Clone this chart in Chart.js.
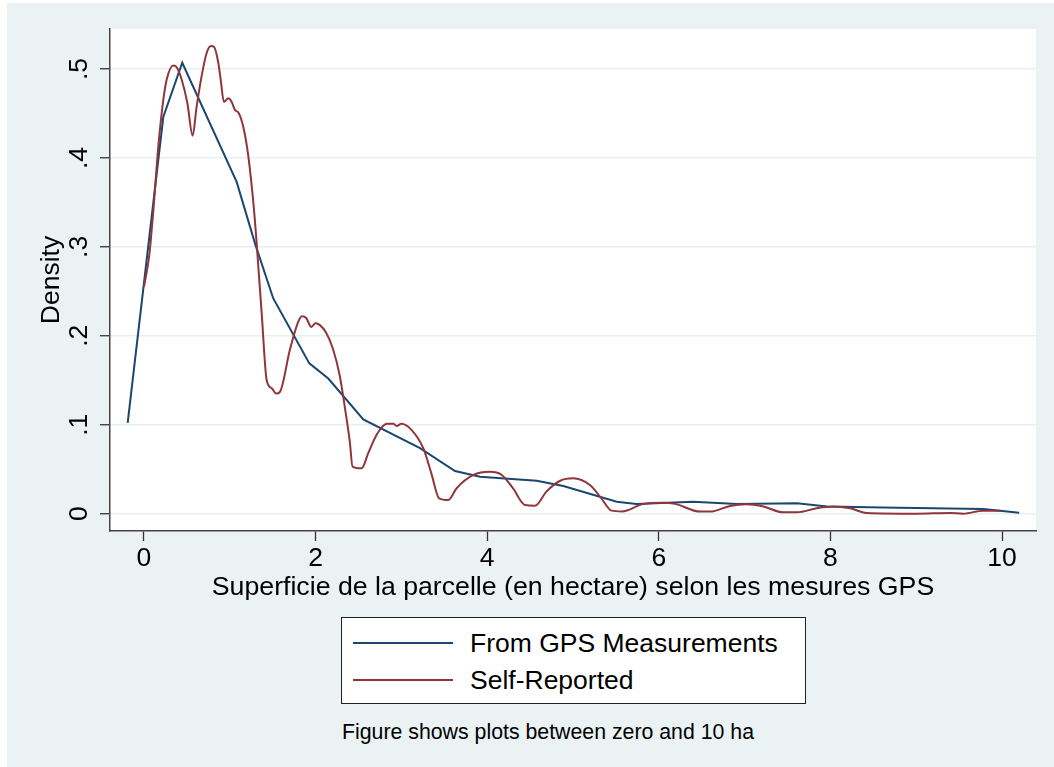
<!DOCTYPE html>
<html><head><meta charset="utf-8">
<script src="https://cdn.jsdelivr.net/npm/chart.js@4.4.1/dist/chart.umd.min.js"></script>
<style>
html,body{margin:0;padding:0;background:#fff;}
body{width:1054px;height:767px;position:relative;overflow:hidden;font-family:"Liberation Sans",Arial,Helvetica,sans-serif;color:#000;}
#bg{position:absolute;left:7px;top:3px;width:1047px;height:764px;background:#EAF2F3;}
#wrap{position:absolute;left:7px;top:3px;width:1040px;height:610px;}
#legend{position:absolute;left:341px;top:617px;width:465px;height:87px;box-sizing:border-box;border:1.3px solid #222;background:#fff;}
.item{position:absolute;left:0;width:100%;height:36px;}
.sample{position:absolute;left:11px;top:17px;width:100px;height:2px;}
.lbl{position:absolute;left:128px;top:0;font-size:26.5px;line-height:36px;white-space:nowrap;}
#note{position:absolute;left:342px;top:720px;font-size:21.3px;line-height:24px;white-space:nowrap;}
</style></head>
<body>
<div id="bg"></div>
<div id="wrap"><canvas id="c"></canvas></div>
<div id="legend"></div>
<div id="note"></div>
<script>
// ---- data ----
const seriesNames = ['From GPS Measurements', 'Self-Reported'];
const seriesColors = ['#1A476F', '#90353B'];
const gpsX = [-0.19, 0.225, 0.446, 1.08, 1.3, 1.507, 1.927, 2.148, 2.556, 3.217, 3.625, 3.916, 4.577, 4.887, 5.51, 5.74, 6.40, 6.91, 7.61, 7.96, 8.61, 9.78, 10.2];
const gpsY = [0.102, 0.446, 0.507, 0.373, 0.302, 0.242, 0.169, 0.152, 0.106, 0.0736, 0.048, 0.0416, 0.037, 0.031, 0.0135, 0.011, 0.0135, 0.011, 0.0117, 0.008, 0.007, 0.0053, 0.001];
const selfX = [0, 0.062, 0.11, 0.167, 0.225, 0.264, 0.342, 0.381, 0.44, 0.505, 0.567, 0.614, 0.672, 0.73, 0.78, 0.816, 0.866, 0.894, 0.932, 0.983, 1.022, 1.06, 1.1, 1.157, 1.216, 1.282, 1.31, 1.372, 1.43, 1.49, 1.54, 1.585, 1.70, 1.795, 1.84, 1.89, 1.95, 2.0, 2.05, 2.12, 2.2, 2.28, 2.35, 2.40, 2.43, 2.537, 2.614, 2.71, 2.83, 2.906, 2.945, 3.0, 3.12, 3.255, 3.35, 3.44, 3.547, 3.644, 3.84, 4.03, 4.17, 4.30, 4.44, 4.557, 4.69, 4.85, 5.0, 5.2, 5.33, 5.45, 5.57, 5.82, 6.05, 6.19, 6.48, 6.6, 6.83, 7.02, 7.22, 7.45, 7.61, 7.84, 8.03, 8.23, 8.42, 9.0, 9.39, 9.55, 9.78, 9.98];
const selfY = [0.255, 0.291, 0.342, 0.413, 0.465, 0.488, 0.504, 0.502, 0.488, 0.462, 0.425, 0.458, 0.492, 0.518, 0.526, 0.525, 0.507, 0.488, 0.463, 0.467, 0.463, 0.454, 0.451, 0.435, 0.402, 0.342, 0.308, 0.225, 0.150, 0.141, 0.135, 0.137, 0.184, 0.215, 0.222, 0.220, 0.210, 0.214, 0.212, 0.204, 0.186, 0.156, 0.114, 0.080, 0.053, 0.051, 0.068, 0.0885, 0.101, 0.101, 0.0987, 0.101, 0.094, 0.0736, 0.045, 0.0173, 0.0154, 0.0286, 0.0435, 0.047, 0.0435, 0.0286, 0.0098, 0.009, 0.0248, 0.037, 0.0398, 0.032, 0.0173, 0.0034, 0.0025, 0.011, 0.0124, 0.011, 0.0023, 0.0023, 0.0087, 0.0105, 0.008, 0.0015, 0.0015, 0.006, 0.008, 0.006, 0.0008, 0.0, 0.0008, 0.0, 0.0034, 0.0034];
const xTicks = [0, 2, 4, 6, 8, 10];
const yTicks = [0, 0.1, 0.2, 0.3, 0.4, 0.5];
const yTickLabels = ['0', '.1', '.2', '.3', '.4', '.5'];
const xTitle = 'Superficie de la parcelle (en hectare) selon les mesures GPS';
const yTitle = 'Density';
const noteText = 'Figure shows plots between zero and 10 ha';

// ---- legend & note (HTML text) ----
const legendEl = document.getElementById('legend');
seriesNames.forEach((name, i) => {
  const it = document.createElement('div');
  it.className = 'item';
  it.style.top = (7 + i * 37) + 'px';
  const s = document.createElement('div');
  s.className = 'sample'; s.style.background = seriesColors[i];
  const l = document.createElement('div');
  l.className = 'lbl'; l.textContent = name;
  it.appendChild(s); it.appendChild(l);
  legendEl.appendChild(it);
});
document.getElementById('note').textContent = noteText;

// ---- chart ----
Chart.defaults.font.family = '"Liberation Sans", Arial, Helvetica, sans-serif';
Chart.defaults.color = '#000';
const plotBg = {
  id: 'plotBg',
  beforeDraw(chart) {
    const {ctx, chartArea: a} = chart;
    ctx.save(); ctx.fillStyle = '#fff';
    ctx.fillRect(a.left, a.top, a.right - a.left, a.bottom - a.top);
    ctx.restore();
  }
};
new Chart(document.getElementById('c'), {
  type: 'line',
  data: {
    datasets: [
      { label: seriesNames[0], data: gpsX.map((x, i) => ({x, y: gpsY[i]})), borderColor: seriesColors[0], borderWidth: 2, pointRadius: 0, tension: 0, order: 1 },
      { label: seriesNames[1], data: selfX.map((x, i) => ({x, y: selfY[i]})), borderColor: seriesColors[1], borderWidth: 2, pointRadius: 0, cubicInterpolationMode: 'monotone', order: 0 }
    ]
  },
  options: {
    responsive: true, maintainAspectRatio: false, animation: false,
    layout: { padding: { top: 26, right: 11, left: 0, bottom: 0 } },
    plugins: { legend: { display: false }, tooltip: { enabled: false } },
    scales: {
      x: {
        type: 'linear', min: -0.396, max: 10.396,
        afterBuildTicks: s => { s.ticks = xTicks.map(v => ({value: v})); },
        afterFit: s => { s.height = 82; },
        ticks: { font: { size: 26.5 }, color: '#000', padding: 2, maxRotation: 0, autoSkip: false, callback: v => String(v) },
        grid: { drawOnChartArea: false, drawTicks: true, tickLength: 10, tickColor: '#333', tickWidth: 1.3 },
        border: { color: '#444', width: 1.5 },
        title: { display: true, text: xTitle, font: { size: 26.7 }, color: '#000', padding: { top: 0, bottom: 9 } }
      },
      y: {
        type: 'linear', min: -0.0195, max: 0.545,
        afterBuildTicks: s => { s.ticks = yTicks.map(v => ({value: v})); },
        afterFit: s => { s.width = 103; },
        ticks: { font: { size: 26.5 }, color: '#000', padding: 9, minRotation: 90, maxRotation: 90, crossAlign: 'center', autoSkip: false,
                 callback: v => yTickLabels[yTicks.indexOf(v)] },
        grid: { color: '#E6EFF1', lineWidth: 1.5, drawTicks: true, tickLength: 10, tickColor: '#333', tickWidth: 1.3 },
        border: { color: '#444', width: 1.5 },
        title: { display: true, text: yTitle, font: { size: 26.5 }, color: '#000', padding: { top: 29, bottom: 0 } }
      }
    }
  },
  plugins: [plotBg]
});
</script>
</body></html>
